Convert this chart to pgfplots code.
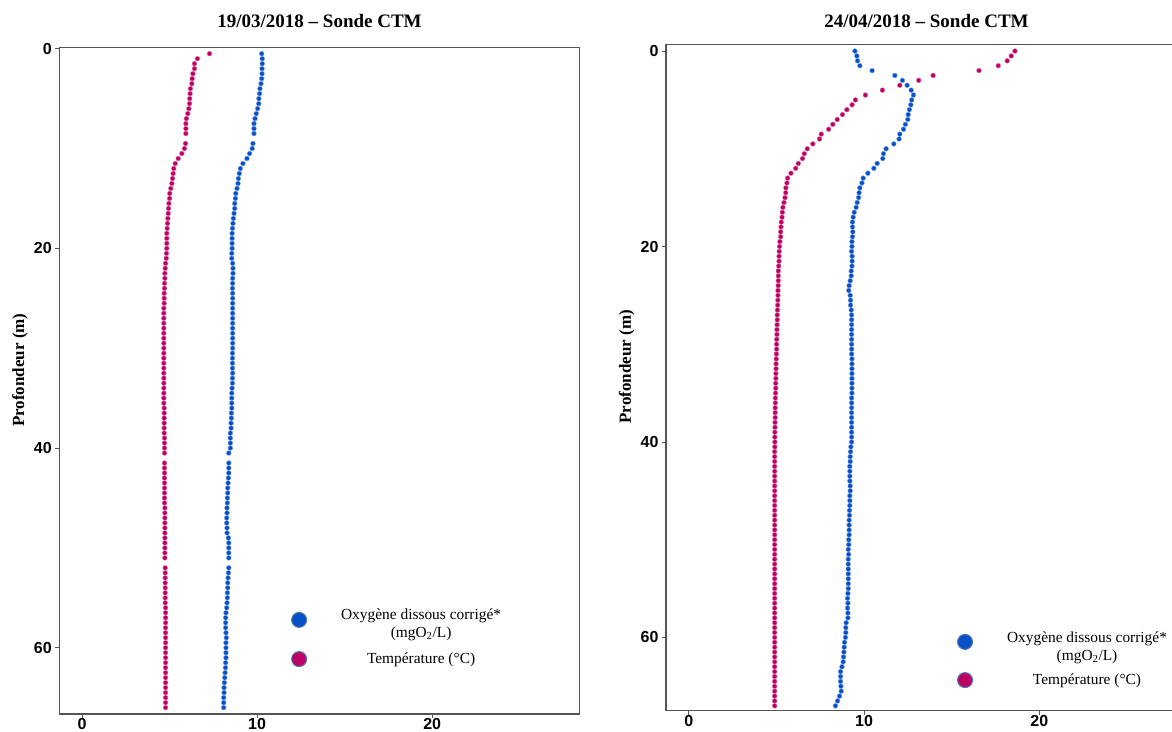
\documentclass[border=0pt]{standalone}
\usepackage{fontspec}
\setmainfont{Liberation Serif}
\newfontfamily\ticksans{Liberation Sans}
\usepackage{pgfplots}
\usepackage{pgfplotstable}
\pgfplotsset{compat=1.18}
\definecolor{oxy}{RGB}{8,80,200}
\definecolor{temp}{RGB}{190,0,100}
\definecolor{legedge}{RGB}{80,120,170}
\definecolor{framegray}{RGB}{85,85,85}

% 19/03/2018 : depth (m), temperature (C), oxygen (mg/L)
\pgfplotstableread{
d t o
0.5 7.28 10.26
1.0 6.59 10.29
1.5 6.42 10.29
2.0 6.42 10.28
2.5 6.33 10.28
3.0 6.29 10.26
3.5 6.27 10.22
4.0 6.19 10.16
4.5 6.17 10.14
5.0 6.15 10.10
5.5 6.14 10.09
6.0 6.10 10.03
6.5 6.04 9.95
7.0 5.96 9.88
7.5 5.93 9.82
8.0 5.93 9.82
8.5 5.93 9.82
9.5 5.91 9.76
10.0 5.85 9.72
10.5 5.70 9.57
11.0 5.49 9.42
11.5 5.32 9.19
12.0 5.24 9.04
12.5 5.20 8.98
13.0 5.17 8.93
13.5 5.13 8.91
14.0 5.07 8.85
14.5 5.01 8.78
15.0 5.00 8.76
15.5 4.96 8.72
16.0 4.94 8.72
16.5 4.92 8.68
17.0 4.90 8.64
17.5 4.88 8.62
18.0 4.86 8.59
18.5 4.84 8.57
19.0 4.84 8.57
19.5 4.84 8.57
20.0 4.84 8.57
20.5 4.82 8.55
21.0 4.81 8.55
21.5 4.77 8.60
22.0 4.75 8.62
22.5 4.73 8.62
23.0 4.73 8.60
23.5 4.71 8.60
24.0 4.71 8.59
24.5 4.69 8.60
25.0 4.69 8.60
25.5 4.69 8.60
26.0 4.67 8.60
26.5 4.67 8.60
27.0 4.67 8.60
27.5 4.67 8.60
28.0 4.67 8.60
28.5 4.67 8.60
29.0 4.67 8.60
29.5 4.67 8.60
30.0 4.67 8.60
30.5 4.67 8.59
31.0 4.67 8.59
31.5 4.67 8.59
32.0 4.67 8.59
32.5 4.67 8.60
33.0 4.67 8.59
33.5 4.67 8.59
34.0 4.67 8.57
34.5 4.67 8.55
35.0 4.67 8.55
35.5 4.67 8.55
36.0 4.69 8.55
36.5 4.69 8.53
37.0 4.69 8.53
37.5 4.69 8.51
38.0 4.69 8.51
38.5 4.69 8.47
39.0 4.71 8.47
39.5 4.71 8.47
40.0 4.71 8.47
40.5 4.71 8.38
41.5 4.71 8.38
42.0 4.71 8.38
42.5 4.71 8.38
43.0 4.71 8.36
43.5 4.71 8.34
44.0 4.71 8.32
44.5 4.71 8.32
45.0 4.71 8.30
45.5 4.71 8.30
46.0 4.73 8.28
46.5 4.73 8.28
47.0 4.73 8.26
47.5 4.73 8.26
48.0 4.73 8.28
48.5 4.73 8.28
49.0 4.73 8.36
49.5 4.73 8.38
50.0 4.73 8.38
50.5 4.73 8.38
51.0 4.73 8.38
52.0 4.75 8.38
52.5 4.75 8.36
53.0 4.75 8.34
53.5 4.75 8.32
54.0 4.75 8.32
54.5 4.75 8.30
55.0 4.75 8.30
55.5 4.75 8.28
56.0 4.77 8.26
56.5 4.77 8.22
57.0 4.77 8.20
57.5 4.77 8.20
58.0 4.77 8.20
58.5 4.77 8.22
59.0 4.77 8.24
59.5 4.77 8.22
60.0 4.77 8.22
60.5 4.77 8.22
61.0 4.77 8.22
61.5 4.77 8.20
62.0 4.77 8.19
62.5 4.77 8.17
63.0 4.77 8.15
63.5 4.77 8.13
64.0 4.77 8.11
64.5 4.77 8.11
65.0 4.77 8.09
65.5 4.77 8.09
66.0 4.77 8.09
}\tabmars

% 24/04/2018
\pgfplotstableread{
d t o
0.0 18.61 9.48
0.5 18.40 9.59
1.0 18.17 9.63
1.5 17.66 9.76
2.0 16.56 10.46
2.5 13.94 11.76
3.0 13.12 12.19
3.5 12.04 12.46
4.0 11.05 12.69
4.5 10.08 12.82
5.0 9.51 12.72
5.5 9.32 12.67
6.0 9.02 12.59
6.5 8.77 12.52
7.0 8.47 12.50
7.5 8.22 12.36
8.0 7.98 12.25
8.5 7.56 12.04
9.0 7.46 12.00
9.5 7.08 11.70
10.0 6.76 11.26
10.5 6.59 11.11
11.0 6.49 11.07
11.5 6.25 10.75
12.0 6.10 10.56
12.5 5.83 10.22
13.0 5.64 9.95
13.5 5.60 9.88
14.0 5.54 9.76
14.5 5.53 9.72
15.0 5.49 9.69
15.5 5.43 9.61
16.0 5.37 9.55
16.5 5.34 9.44
17.0 5.32 9.38
17.5 5.28 9.34
18.0 5.26 9.34
18.5 5.24 9.36
19.0 5.24 9.34
19.5 5.20 9.31
20.0 5.18 9.31
20.5 5.16 9.29
21.0 5.15 9.32
21.5 5.15 9.32
22.0 5.13 9.31
22.5 5.11 9.27
23.0 5.11 9.27
23.5 5.11 9.21
24.0 5.10 9.15
24.5 5.09 9.13
25.0 5.09 9.21
25.5 5.08 9.23
26.0 5.07 9.23
26.5 5.06 9.27
27.0 5.05 9.29
27.5 5.05 9.29
28.0 5.04 9.29
28.5 5.03 9.29
29.0 5.03 9.29
29.5 5.02 9.29
30.0 5.01 9.29
30.5 5.01 9.29
31.0 5.00 9.29
31.5 4.99 9.31
32.0 4.98 9.31
32.5 4.98 9.31
33.0 4.97 9.31
33.5 4.97 9.31
34.0 4.96 9.31
34.5 4.96 9.31
35.0 4.95 9.31
35.5 4.94 9.29
36.0 4.94 9.29
36.5 4.93 9.29
37.0 4.93 9.29
37.5 4.93 9.29
38.0 4.92 9.29
38.5 4.92 9.29
39.0 4.91 9.29
39.5 4.91 9.29
40.0 4.91 9.29
40.5 4.91 9.25
41.0 4.90 9.23
41.5 4.90 9.21
42.0 4.90 9.21
42.5 4.90 9.19
43.0 4.90 9.19
43.5 4.90 9.19
44.0 4.90 9.19
44.5 4.90 9.21
45.0 4.90 9.21
45.5 4.90 9.19
46.0 4.90 9.19
46.5 4.90 9.19
47.0 4.90 9.17
47.5 4.90 9.17
48.0 4.90 9.15
48.5 4.90 9.15
49.0 4.90 9.15
49.5 4.90 9.15
50.0 4.90 9.13
50.5 4.90 9.13
51.0 4.90 9.10
51.5 4.90 9.12
52.0 4.90 9.10
52.5 4.90 9.10
53.0 4.90 9.10
53.5 4.90 9.10
54.0 4.90 9.10
54.5 4.90 9.10
55.0 4.90 9.10
55.5 4.90 9.08
56.0 4.90 9.06
56.5 4.90 9.08
57.0 4.90 9.06
57.5 4.90 9.08
58.0 4.90 9.08
58.5 4.90 8.98
59.0 4.90 8.96
59.5 4.90 8.96
60.0 4.90 8.94
60.5 4.90 8.89
61.0 4.90 8.87
61.5 4.90 8.85
62.0 4.90 8.83
62.5 4.90 8.81
63.0 4.90 8.74
63.5 4.90 8.66
64.0 4.90 8.66
64.5 4.90 8.66
65.0 4.90 8.68
65.5 4.90 8.70
66.0 4.90 8.60
66.5 4.90 8.49
67.0 4.90 8.37
}\tabavril

\pgfplotsset{
  panel/.style={
    scale only axis,
    y dir=reverse,
    xmin=-1.3, xmax=28.43,
    xtick={0,10,20}, ytick={0,20,40,60},
    axis line style={framegray, line width=1.1pt},
    tick pos=left, tick align=outside,
    major tick length=4pt,
    every tick/.style={framegray, line width=0.8pt},
    /pgf/number format/assume math mode=true,
    tick label style={font=\ticksans\bfseries\fontsize{16}{16}\selectfont},
    xticklabel style={yshift=3pt},
    every axis y label/.style={at={(axis description cs:-0.0755,0.516)}, rotate=90, anchor=center},
    ylabel={Profondeur (m)},
    ylabel style={font=\bfseries\fontsize{17}{17}\selectfont},
    every axis title/.style={at={(axis description cs:0.5,1)}, anchor=base},
    title style={font=\bfseries\fontsize{19}{19}\selectfont},
    legend cell align=center,
    legend style={draw=none, fill=none, font=\fontsize{15.4}{18}\selectfont,
      cells={align=center}, column sep=32pt, row sep=10pt},
  },
  oxyplot/.style={only marks, mark=*, mark size=2.4pt,
    mark options={draw=oxy!55, fill=oxy, line width=0.4pt}},
  tempplot/.style={only marks, mark=*, mark size=2.4pt,
    mark options={draw=temp!55, fill=temp, line width=0.4pt}},
}

\begin{document}
\begin{tikzpicture}
\path[use as bounding box] (0pt,0pt) rectangle (1172pt,731pt);

\begin{axis}[panel,
  at={(59.3pt,17pt)}, anchor=south west,
  width=520.5pt, height=666.3pt,
  ymin=-0.1, ymax=66.64,
  title={19/03/2018 – Sonde CTM},
  title style={yshift=20pt},
  legend style={at={(axis description cs:0.649,0.1156)}, anchor=center},
]
\addplot[oxyplot, forget plot] table[x=o, y=d] {\tabmars};
\addplot[tempplot, forget plot] table[x=t, y=d] {\tabmars};
\addlegendimage{legend image code/.code={\draw[legedge, fill=oxy, line width=1pt] (0pt,4pt) circle (7.5pt);}}
\addlegendentry{Oxygène dissous corrigé*\\(mgO\textsubscript{2}/L)}
\addlegendimage{legend image code/.code={\draw[legedge, fill=temp, line width=1pt] (0pt,0pt) circle (7.5pt);}}
\addlegendentry{Température (°C)}
\end{axis}

\begin{axis}[panel,
  at={(666pt,20.3pt)}, anchor=south west,
  width=521pt, height=666.4pt,
  ymin=-0.69, ymax=67.5,
  title={24/04/2018 – Sonde CTM},
  title style={yshift=17pt},
  legend style={at={(axis description cs:0.762,0.0776)}, anchor=center, row sep=8pt},
]
\addplot[oxyplot, forget plot] table[x=o, y=d] {\tabavril};
\addplot[tempplot, forget plot] table[x=t, y=d] {\tabavril};
\addlegendimage{legend image code/.code={\draw[legedge, fill=oxy, line width=1pt] (0pt,5pt) circle (7.5pt);}}
\addlegendentry{Oxygène dissous corrigé*\\(mgO\textsubscript{2}/L)}
\addlegendimage{legend image code/.code={\draw[legedge, fill=temp, line width=1pt] (0pt,0pt) circle (7.5pt);}}
\addlegendentry{Température (°C)}
\end{axis}
\end{tikzpicture}
\end{document}
